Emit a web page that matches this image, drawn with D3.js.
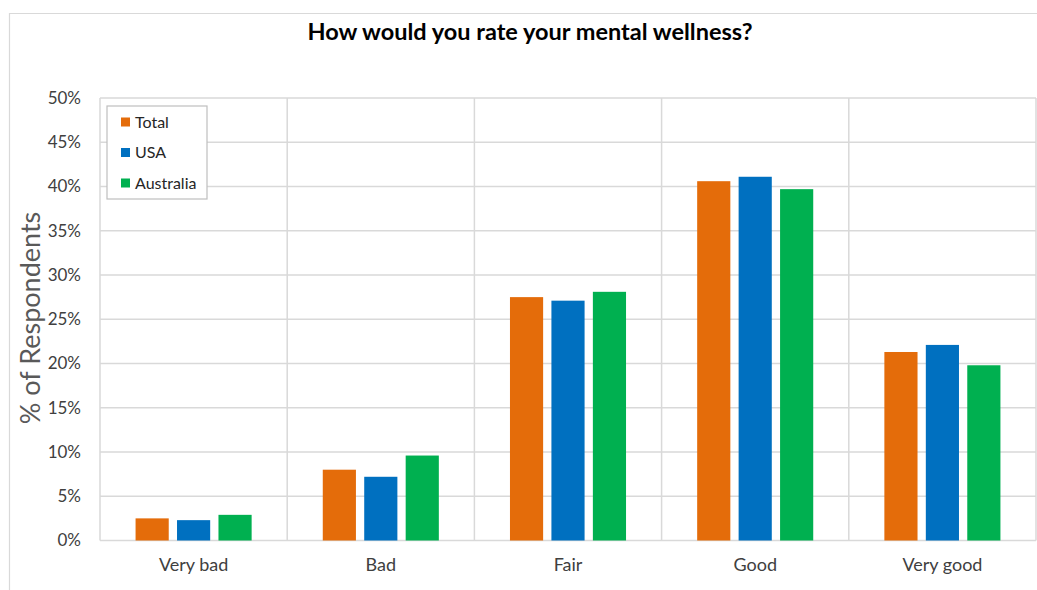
<!DOCTYPE html>
<html>
<head>
<meta charset="utf-8">
<script src="https://cdn.jsdelivr.net/npm/d3@7"></script>
<style>
  html, body { margin: 0; padding: 0; background: #fff; }
  svg { display: block; font-family: Lato, "Open Sans", sans-serif; }
</style>
</head>
<body>
<svg id="chart" width="1037" height="590"></svg>
<script>
// Survey answers, in percent of respondents
const categories = ["Very bad", "Bad", "Fair", "Good", "Very good"];
const seriesNames = ["Total", "USA", "Australia"];
const totalValues = [2.5, 8.0, 27.5, 40.6, 21.3];
const usaValues = [2.3, 7.2, 27.1, 41.1, 22.1];
const australiaValues = [2.9, 9.6, 28.1, 39.7, 19.8];
const yTicks = [0, 5, 10, 15, 20, 25, 30, 35, 40, 45, 50];
const seriesColors = ["#E46C0A", "#0070C0", "#00B050"];

const seriesValues = [totalValues, usaValues, australiaValues];
const rows = categories.map((c, i) => ({
  category: c,
  values: seriesNames.map((s, j) => ({ series: s, value: seriesValues[j][i] }))
}));

const svg = d3.select("#chart");
const plot = { left: 100, right: 1036, top: 98, bottom: 540.5 };

// Outer chart frame
svg.append("path")
  .attr("d", "M9.5,590 V13.5 H1037")
  .attr("fill", "none")
  .attr("stroke", "#D9D9D9")
  .attr("stroke-width", 1.2);

const x = d3.scaleBand().domain(categories).range([plot.left, plot.right]).padding(0);
const y = d3.scaleLinear().domain([0, 50]).range([plot.bottom, plot.top]);
const groupWidth = x.bandwidth() * 0.62;
const xInner = d3.scaleBand().domain(seriesNames)
  .range([(x.bandwidth() - groupWidth) / 2, (x.bandwidth() + groupWidth) / 2])
  .paddingInner(0.2);

// Horizontal gridlines
svg.append("g")
  .selectAll("line").data(yTicks).join("line")
  .attr("x1", plot.left).attr("x2", plot.right)
  .attr("y1", d => y(d)).attr("y2", d => y(d))
  .attr("stroke", "#D9D9D9").attr("stroke-width", 1.5);

// Vertical category dividers
const dividers = categories.map(c => x(c)).concat([plot.right]);
svg.append("g")
  .selectAll("line").data(dividers).join("line")
  .attr("x1", d => d).attr("x2", d => d)
  .attr("y1", plot.top).attr("y2", plot.bottom)
  .attr("stroke", "#D9D9D9").attr("stroke-width", 1.5);

// Bars
svg.append("g")
  .selectAll("g").data(rows).join("g")
  .attr("transform", d => `translate(${x(d.category)},0)`)
  .selectAll("rect").data(d => d.values).join("rect")
  .attr("x", d => xInner(d.series))
  .attr("width", xInner.bandwidth())
  .attr("y", d => y(d.value))
  .attr("height", d => y(0) - y(d.value))
  .attr("fill", (d, i) => seriesColors[i]);

// Y axis labels
const yAxis = d3.axisLeft(y).tickValues(yTicks).tickFormat(d => d + "%").tickSize(0).tickPadding(19);
const gy = svg.append("g").attr("transform", `translate(${plot.left},0)`).call(yAxis);
gy.select(".domain").remove();
gy.selectAll("text")
  .attr("font-size", 17).attr("fill", "#404040")
  .attr("font-family", "Lato, 'Open Sans', sans-serif");

// X axis labels
const xAxis = d3.axisBottom(x).tickSize(0).tickPadding(18);
const gx = svg.append("g").attr("transform", `translate(0,${plot.bottom})`).call(xAxis);
gx.select(".domain").remove();
gx.selectAll("text")
  .attr("font-size", 18).attr("fill", "#404040")
  .attr("font-family", "Lato, 'Open Sans', sans-serif");

// Title
svg.append("text")
  .attr("x", 530).attr("y", 40)
  .attr("text-anchor", "middle")
  .attr("font-size", 23.5).attr("font-weight", "bold").attr("fill", "#000")
  .text("How would you rate your mental wellness?");

// Y axis title
svg.append("text")
  .attr("transform", "translate(40,318) rotate(-90)")
  .attr("text-anchor", "middle")
  .attr("font-size", 27).attr("fill", "#595959")
  .text("% of Respondents");

// Legend
const legend = svg.append("g").attr("transform", "translate(107,106)");
legend.append("rect")
  .attr("width", 100).attr("height", 93)
  .attr("fill", "#fff").attr("stroke", "#BFBFBF").attr("stroke-width", 1.2);
const items = legend.selectAll("g.item").data(seriesNames).join("g")
  .attr("class", "item")
  .attr("transform", (d, i) => `translate(14,${16 + i * 30.5})`);
items.append("rect")
  .attr("x", 0).attr("y", -4.5).attr("width", 9).attr("height", 9)
  .attr("fill", (d, i) => seriesColors[i]);
items.append("text")
  .attr("x", 14).attr("y", 5.5)
  .attr("font-size", 16).attr("fill", "#262626")
  .text(d => d);
</script>
</body>
</html>
